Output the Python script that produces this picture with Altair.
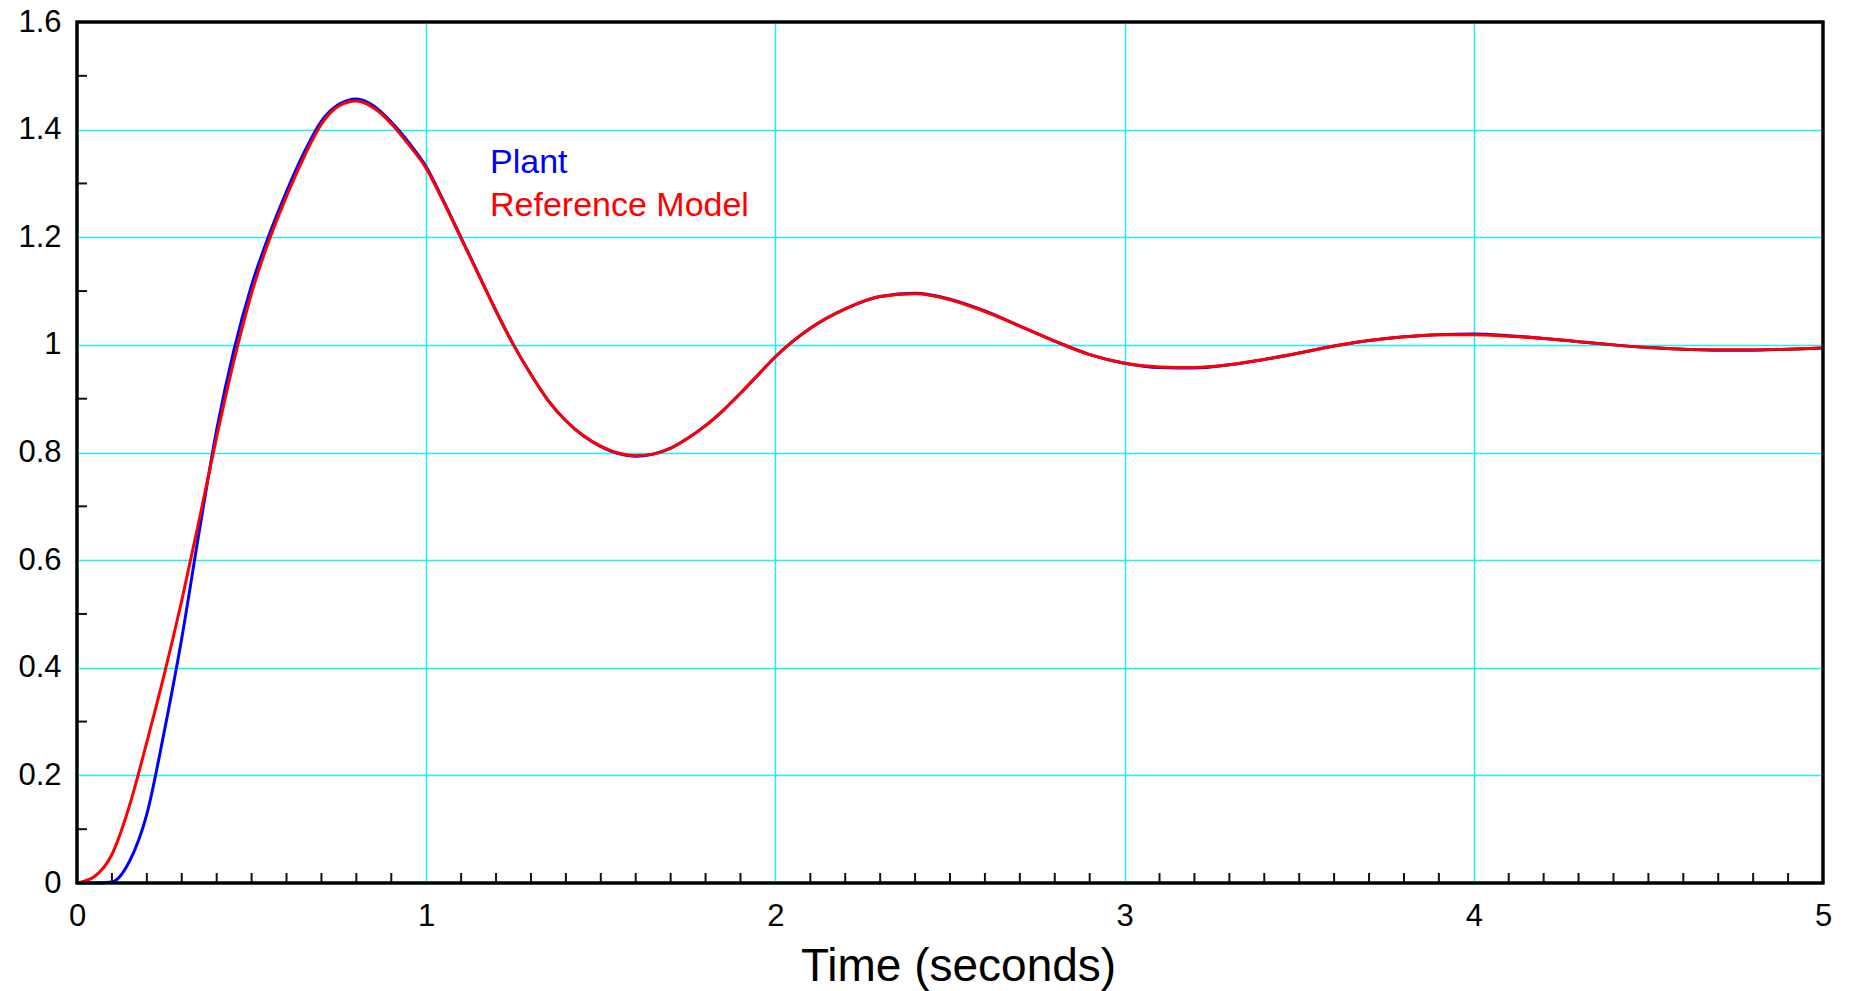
import altair as alt
import pandas as pd

# ---- data ----
ref_t = [0.00, 0.05, 0.10, 0.15, 0.20, 0.25, 0.30, 0.35, 0.40, 0.45, 0.50, 0.55, 0.60,
         0.65, 0.70, 0.75, 0.80, 0.85, 0.90, 0.95, 1.00, 1.05, 1.10, 1.15, 1.20, 1.25,
         1.30, 1.35, 1.40, 1.45, 1.50, 1.55, 1.60, 1.65, 1.70, 1.75, 1.80, 1.85, 1.90,
         1.95, 2.00, 2.10, 2.20, 2.30, 2.40, 2.50, 2.60, 2.70, 2.80, 2.90, 3.00, 3.10,
         3.20, 3.30, 3.40, 3.50, 3.60, 3.70, 3.80, 3.90, 4.00, 4.10, 4.20, 4.30, 4.40,
         4.50, 4.60, 4.70, 4.80, 4.90, 5.00]
ref_v = [0.000, 0.012, 0.053, 0.143, 0.262, 0.388, 0.525, 0.675, 0.829, 0.972, 1.096, 1.194, 1.276,
         1.349, 1.410, 1.444, 1.453, 1.440, 1.411, 1.372, 1.328, 1.265, 1.198, 1.130, 1.063, 1.000,
         0.945, 0.896, 0.859, 0.831, 0.812, 0.799, 0.794, 0.797, 0.808, 0.827, 0.850, 0.878, 0.910,
         0.944, 0.978, 1.031, 1.067, 1.090, 1.095, 1.084, 1.062, 1.035, 1.007, 0.982, 0.966, 0.959,
         0.958, 0.963, 0.973, 0.985, 0.998, 1.008, 1.015, 1.019, 1.019, 1.016, 1.012, 1.006, 1.000,
         0.995, 0.992, 0.991, 0.991, 0.992, 0.994]

plant_t = ref_t
plant_v = [0.000, 0.000, 0.002, 0.040, 0.128, 0.282, 0.455, 0.653, 0.842, 0.992, 1.111, 1.204, 1.285,
           1.357, 1.416, 1.447, 1.457, 1.444, 1.414, 1.376, 1.331, 1.267, 1.199, 1.131, 1.063, 1.000,
           0.945, 0.896, 0.859, 0.831, 0.811, 0.798, 0.793, 0.797, 0.808, 0.827, 0.850, 0.878, 0.910,
           0.944, 0.978, 1.031, 1.067, 1.090, 1.096, 1.085, 1.063, 1.035, 1.007, 0.982, 0.966, 0.958,
           0.957, 0.963, 0.973, 0.985, 0.998, 1.008, 1.015, 1.019, 1.020, 1.017, 1.012, 1.006, 1.000,
           0.995, 0.992, 0.990, 0.990, 0.992, 0.994]

x_major = [0, 1, 2, 3, 4, 5]
y_major = [0, 0.2, 0.4, 0.6, 0.8, 1.0, 1.2, 1.4, 1.6]
x_minor = [i / 10 for i in range(1, 50) if i % 10 != 0]
y_minor = [0.1, 0.3, 0.5, 0.7, 0.9, 1.1, 1.3, 1.5]

series_names = ["Plant", "Reference Model"]
series_colors = ["#0000ff", "#ff0000"]

# ---- chart ----
W, H = 1746, 861
FONT = "Liberation Sans"
GRID = "#22f0f0"

xscale = alt.Scale(domain=[0, 5], nice=False, zero=False)
yscale = alt.Scale(domain=[0, 1.6], nice=False, zero=False)

x_axis = alt.Axis(values=x_major, format="~g", title="Time (seconds)", grid=True,
                  gridColor=GRID, gridWidth=1.5, ticks=False, tickSize=0, domain=False,
                  labelFont=FONT, labelFontSize=31, labelColor="black", labelPadding=18,
                  labelFlush=False, titleFont=FONT, titleFontSize=46, titleFontWeight="normal",
                  titleColor="black", titleX=881, titleY=97, titleAlign="center",
                  titleBaseline="alphabetic")
y_axis = alt.Axis(values=y_major, format="~g", title="", grid=True,
                  gridColor=GRID, gridWidth=1.5, ticks=False, tickSize=0, domain=False,
                  labelFont=FONT, labelFontSize=31, labelColor="black", labelPadding=16,
                  labelFlush=False)

X = alt.X("t:Q", scale=xscale, axis=x_axis, title="Time (seconds)")
Y = alt.Y("v:Q", scale=yscale, axis=y_axis, title="")

plant_df = pd.DataFrame({"t": plant_t, "v": plant_v})
ref_df = pd.DataFrame({"t": ref_t, "v": ref_v})

plant_line = alt.Chart(plant_df).mark_line(
    color=series_colors[0], strokeWidth=3, interpolate="monotone"
).encode(x=X, y=Y)

ref_line = alt.Chart(ref_df).mark_line(
    color=series_colors[1], strokeWidth=3, interpolate="monotone"
).encode(x=X, y=Y)

xtick = alt.Chart(pd.DataFrame({"t": x_minor})).mark_rule(color="#111111", strokeWidth=2).encode(
    x=X,
    y=alt.value(H),
    y2=alt.value(H - 10),
)

ytick = alt.Chart(pd.DataFrame({"v": y_minor})).mark_rule(color="#111111", strokeWidth=2).encode(
    y=Y,
    x=alt.value(0),
    x2=alt.value(10),
)

frame = alt.Chart(pd.DataFrame({"f": [0]})).mark_rect(
    fillOpacity=0, stroke="black", strokeWidth=3
).encode(x=alt.value(0), x2=alt.value(W), y=alt.value(0), y2=alt.value(H))

lab1 = alt.Chart(pd.DataFrame({"label": [series_names[0]]})).mark_text(
    align="left", baseline="alphabetic", font=FONT, fontSize=34, color=series_colors[0]
).encode(x=alt.value(413), y=alt.value(151), text="label:N")

lab2 = alt.Chart(pd.DataFrame({"label": [series_names[1]]})).mark_text(
    align="left", baseline="alphabetic", font=FONT, fontSize=34, color=series_colors[1]
).encode(x=alt.value(413), y=alt.value(194), text="label:N")

chart = alt.layer(plant_line, ref_line, xtick, ytick, frame, lab1, lab2).properties(
    width=W, height=H,
    autosize=alt.AutoSizeParams(type="none"),
    padding={"left": 77, "top": 22, "right": 27, "bottom": 108},
    background="white",
).configure_view(stroke="black", strokeWidth=3)

chart.save("out.html", embed_options={"renderer": "svg", "actions": False})
